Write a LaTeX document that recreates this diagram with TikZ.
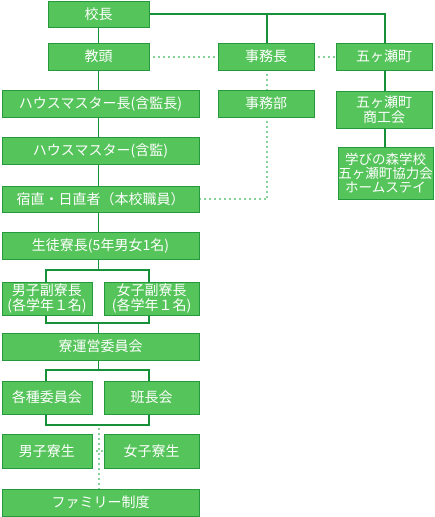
\documentclass[tikz,border=0pt]{standalone}
\usepackage{fontspec}
\newfontfamily\jp{Noto Sans CJK JP}
\definecolor{boxfill}{HTML}{55C45A}
\definecolor{boxline}{HTML}{249A3D}
\definecolor{conn}{HTML}{17903A}
\definecolor{dotc}{HTML}{86D39A}
\tikzset{
  orgbox/.style={draw=boxline, line width=1pt, fill=boxfill, text=white, inner sep=0pt,
    font=\jp\fontsize{14}{14.5}\selectfont, align=center},
  conline/.style={draw=conn, line width=1.1pt},
  dotline/.style={draw=dotc, line width=2pt, dash pattern=on 2pt off 3pt, dash phase=-3pt},
}
\begin{document}
\begin{tikzpicture}[x=1pt,y=-1pt]
\useasboundingbox (0,0) rectangle (434,517);
% left column
\node[orgbox, minimum width=101pt, minimum height=26pt] (kocho) at (98.5,14) {校長};
\node[orgbox, minimum width=101pt, minimum height=27pt] (kyoto) at (98.5,56.5) {教頭};
\node[orgbox, minimum width=197pt, minimum height=27pt] (hm1) at (100.5,103.5) {ハウスマスター長(含監長)};
\node[orgbox, minimum width=197pt, minimum height=27pt] (hm2) at (100.5,150.5) {ハウスマスター(含監)};
\node[orgbox, minimum width=197pt, minimum height=26pt] (shuku) at (100.5,199) {宿直・日直者（本校職員）};
\node[orgbox, minimum width=197pt, minimum height=27pt] (ryocho) at (100.5,245.5) {生徒寮長(5年男女1名)};
\node[orgbox, minimum width=90pt, minimum height=33pt] (danfuku) at (47,298.5) {男子副寮長\\(各学年１名)};
\node[orgbox, minimum width=95pt, minimum height=33pt] (jofuku) at (151.5,298.5) {女子副寮長\\(各学年１名)};
\node[orgbox, minimum width=197pt, minimum height=27pt] (unei) at (100.5,346.5) {寮運営委員会};
\node[orgbox, minimum width=90pt, minimum height=33pt] (kakushu) at (47,397.5) {各種委員会};
\node[orgbox, minimum width=95pt, minimum height=33pt] (hancho) at (151.5,397.5) {班長会};
\node[orgbox, minimum width=90pt, minimum height=34pt] (danryo) at (47,451) {男子寮生};
\node[orgbox, minimum width=95pt, minimum height=34pt] (joryo) at (151.5,451) {女子寮生};
\node[orgbox, minimum width=197pt, minimum height=27pt] (family) at (100.5,502.5) {ファミリー制度};
% right columns
\node[orgbox, minimum width=96pt, minimum height=27pt] (jimucho) at (266,56.5) {事務長};
\node[orgbox, minimum width=96pt, minimum height=27pt] (gokase) at (384,56.5) {五ヶ瀬町};
\node[orgbox, minimum width=96pt, minimum height=27pt] (jimubu) at (266,103.5) {事務部};
\node[orgbox, minimum width=96pt, minimum height=37pt] (shoko) at (384,109.5) {五ヶ瀬町\\商工会};
\node[orgbox, minimum width=95pt, minimum height=52pt, font=\jp\fontsize{13.5}{14}\selectfont] (manabi) at (385.5,173) {学びの森学校\\五ヶ瀬町協力会\\ホームステイ};
% coordinates
\coordinate (topR) at (385,14);
\coordinate (topM) at (267,14);
\coordinate (b1) at (98.5,270);
\coordinate (b1L) at (46,270);
\coordinate (b1R) at (149,270);
\coordinate (b2) at (98.5,323);
\coordinate (b2L) at (46,323);
\coordinate (b2R) at (149,323);
\coordinate (b3) at (98.5,370);
\coordinate (b3L) at (46,370);
\coordinate (b3R) at (149,370);
\coordinate (b4) at (98.5,425);
\coordinate (b4L) at (46,425);
\coordinate (b4R) at (149,425);
\coordinate (dcorner) at (267,199);
% solid connectors
\draw[conline] (kocho.south) -- (kyoto.north);
\draw[conline] (kyoto.south) -- (kyoto.south |- hm1.north);
\draw[conline] (kyoto.south |- hm1.south) -- (kyoto.south |- hm2.north);
\draw[conline] (kyoto.south |- hm2.south) -- (kyoto.south |- shuku.north);
\draw[conline] (kyoto.south |- shuku.south) -- (kyoto.south |- ryocho.north);
\draw[conline] (kocho.east) -- (topR) -- (topR |- gokase.north);
\draw[conline] (topM) -- (topM |- jimucho.north);
\draw[conline] (topR |- gokase.south) -- (topR |- shoko.north);
\draw[conline] (topR |- shoko.south) -- (topR |- manabi.north);
\draw[conline] (b1 |- ryocho.south) -- (b1);
\draw[conline] (b1L |- danfuku.north) -- (b1L) -- (b1R) -- (b1R |- jofuku.north);
\draw[conline] (b2L |- danfuku.south) -- (b2L) -- (b2R) -- (b2R |- jofuku.south);
\draw[conline] (b2) -- (b2 |- unei.north);
\draw[conline] (b3 |- unei.south) -- (b3);
\draw[conline] (b3L |- kakushu.north) -- (b3L) -- (b3R) -- (b3R |- hancho.north);
\draw[conline] (b4L |- kakushu.south) -- (b4L) -- (b4R) -- (b4R |- hancho.south);
% dotted connectors
\draw[dotline] (kyoto.east) -- (jimucho.west);
\draw[dotline] (jimucho.east) -- (gokase.west);
\draw[dotline] (topM |- jimucho.south) -- (topM |- jimubu.north);
\draw[dotline] (topM |- jimubu.south) -- (dcorner) -- (shuku.east);
\draw[dotline] (danryo.east) -- (joryo.west);
\draw[dotline] (b4) -- (b4 |- family.north);
\end{tikzpicture}
\end{document}
